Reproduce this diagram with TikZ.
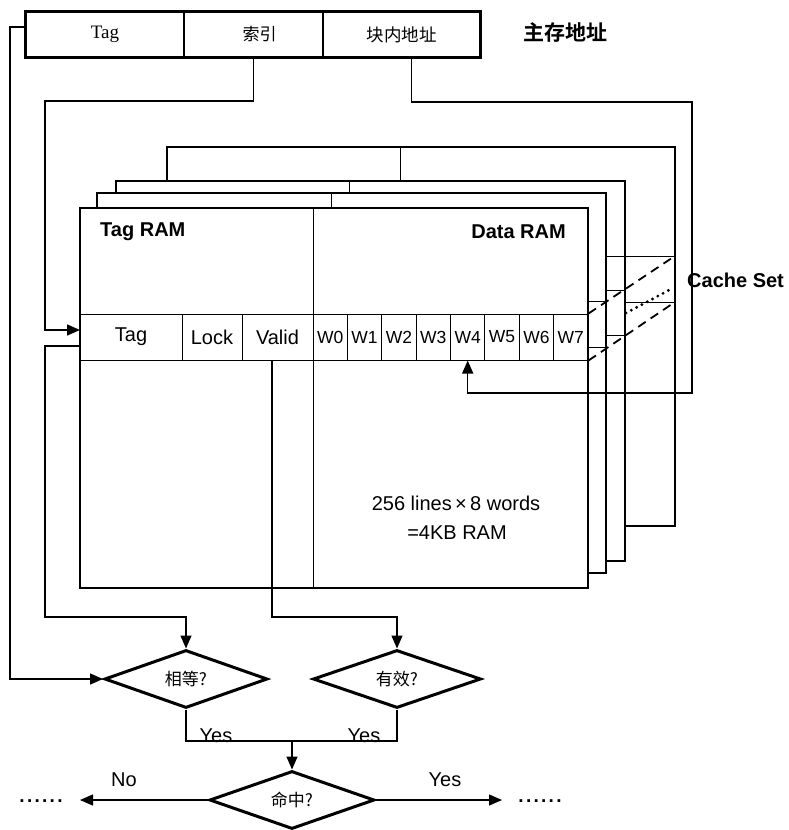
\documentclass[tikz,border=0pt]{standalone}
\usepackage{fontspec}
\setmainfont{Liberation Sans}
\newfontfamily\serifs{Liberation Serif}
\newfontfamily\cjk{Noto Sans CJK SC}
\newfontfamily\cjkb{Noto Sans CJK SC Bold}
\usetikzlibrary{arrows.meta,shapes.geometric}
\tikzset{
  bx/.style={line width=2.8pt},
  thinl/.style={line width=1pt},
  conn/.style={line width=1.4pt},
  arr/.style={-{Triangle[length=13pt,width=11pt]}},
  addr/.style={draw, line width=1.3pt, minimum height=45pt, inner sep=0pt},
  cell/.style={draw, line width=1pt, minimum height=46pt, inner sep=0pt, font=\fontsize{20}{22}\selectfont},
  wcell/.style={cell, minimum width=34.375pt, font=\fontsize{17.5}{19}\selectfont},
  dia/.style={diamond, draw, line width=3pt, inner sep=0pt, aspect=2.8, font=\cjk\fontsize{17}{19}\selectfont},
  boldlbl/.style={font=\bfseries\fontsize{20}{22}\selectfont, inner sep=0pt},
  lbl/.style={font=\fontsize{20}{22}\selectfont, inner sep=0pt},
  dots/.style={font=\bfseries\fontsize{19}{21}\selectfont\addfontfeature{LetterSpace=12}, inner sep=0pt},
}
\begin{document}
\begin{tikzpicture}[x=1pt,y=-1pt]
\useasboundingbox[fill=white] (0,0) rectangle (789,830);

% ---- main memory address ----
\node[addr, minimum width=158pt, font=\serifs\fontsize{19}{21}\selectfont] (atag) at (105,34.5) {Tag};
\node[addr, minimum width=139pt, font=\cjk\fontsize{17}{19}\selectfont] (aidx) at (253.5,34.5) {\hspace{12pt}索引};
\node[addr, minimum width=157pt, font=\cjk\fontsize{17.5}{19}\selectfont] (aoff) at (401.5,34.5) {块内地址};
\draw[bx] (atag.north west) rectangle (aoff.south east);
\node[font=\cjkb\fontsize{21}{23}\selectfont, inner sep=0pt] (mainaddr) at (565,33) {主存地址};

% ---- stacked cache ways (back to front) ----
\draw[bx, fill=white] (167,147) rectangle (675,526);
\draw[thinl] (400,147) -- (400,526);
\draw[thinl] (167,256) -- (675,256);
\draw[thinl] (167,302) -- (675,302);

\draw[bx, fill=white] (116,181) rectangle (625,561);
\draw[thinl] (349,181) -- (349,561);
\draw[thinl] (116,290) -- (625,290);
\draw[thinl] (116,335) -- (625,335);

\draw[bx, fill=white] (97,193) rectangle (606,573);
\draw[thinl] (331,193) -- (331,573);
\draw[thinl] (97,301) -- (606,301);
\draw[thinl] (97,347) -- (606,347);

\draw[bx, fill=white] (80,208) rectangle (588,588);
\draw[thinl] (313,208) -- (313,588);
\draw[thinl] (606,256) -- (625,256);

% row of the front way
\node[cell, minimum width=102pt] (tagc) at (131,337) {Tag};
\node[cell, minimum width=60pt] (lock) at (212,337) {Lock};
\node[cell, minimum width=71pt] (valid) at (277.5,337) {Valid};
\foreach \i in {0,...,7}{
  \node[wcell] (w\i) at ({313+34.375*(\i+0.5)},337) {W\i};
}
\draw[bx] (80,208) rectangle (588,588);

\node[boldlbl, anchor=west] (tagram) at (100,232) {Tag RAM};
\node[boldlbl, anchor=east] (dataram) at (566,232) {Data RAM};
\node[lbl] (size1) at (456,503) {256 lines\,×\,8 words};
\node[lbl] (size2) at (457,533) {=4KB RAM};

% cache set indication
\coordinate (s4t) at (675,256);
\coordinate (s4b) at (675,302);
\draw[line width=1.8pt, dash pattern=on 9pt off 6pt] (w7.north east) -- (s4t);
\draw[line width=1.8pt, dash pattern=on 9pt off 6pt] (w7.south east) -- (s4b);
\draw[line width=3.2pt, line cap=round, dash pattern=on 0pt off 6pt] (626,313) -- (673,288);
\node[boldlbl, anchor=west] (cacheset) at (687,280) {Cache Set};

% ---- decision diamonds ----
\node[dia, minimum width=163pt, minimum height=58pt] (eq) at (186,679) {相等?};
\node[dia, minimum width=168pt, minimum height=58pt] (vd) at (397,679) {有效?};
\node[dia, minimum width=165pt, minimum height=58pt] (hit) at (292,800) {命中?};

% ---- connectors ----
\coordinate (inidx) at (80,330);
\draw[conn, arr] ([yshift=7.5pt]atag.west) -| (10,679) -- (eq.west);
\draw[conn, arr] (aidx.south) |- (45,101) |- (inidx);
\draw[conn, arr] ([xshift=10pt]aoff.south) |- (692,102) -- (692,393) -| (w4.south);
\draw[conn, arr] ([yshift=-9pt]tagc.west) -| (45,617) -| (eq.north);
\draw[conn, arr] ([xshift=-5.5pt]valid.south) -- (272,617) -| (vd.north);

\coordinate (join) at (292,741);
\draw[conn] (eq.south) |- (join) -| (vd.south);
\draw[conn, arr] (join) -- (hit.north);
\node[lbl, anchor=south] (yes1) at (216,743) {Yes};
\node[lbl, anchor=south] (yes2) at (364,743) {Yes};

\coordinate (noend) at (80,800);
\coordinate (yesend) at (502,800);
\draw[conn, arr] (hit.west) -- (noend);
\draw[conn, arr] (hit.east) -- (yesend);
\node[lbl] (nolbl) at (124,780) {No};
\node[lbl] (yeslbl) at (445,780) {Yes};
\node[dots] (dotsl) at (41,801) {......};
\node[dots] (dotsr) at (540,801) {......};
\end{tikzpicture}
\end{document}
